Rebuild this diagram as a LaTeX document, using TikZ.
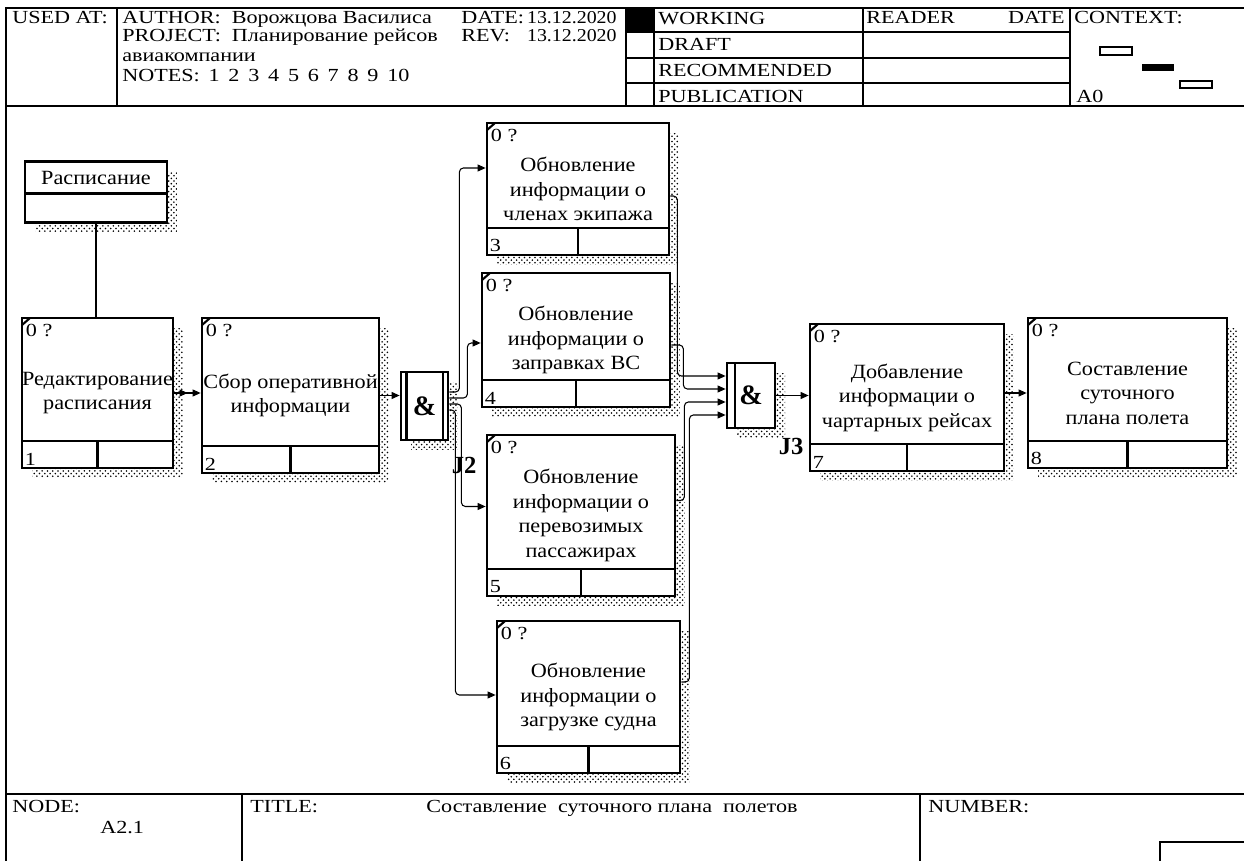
\documentclass[tikz,border=0pt]{standalone}
\usepackage{fontspec}
\setmainfont{Liberation Serif}
\newfontfamily\widefam[FakeStretch=1.2]{Liberation Serif}
\newfontfamily\boxfam[FakeStretch=1.1]{Liberation Serif}
\usetikzlibrary{shapes,shapes.multipart,arrows.meta,calc,shadows,patterns}
\newcommand\boxfont{\boxfam\fontsize{11.5}{13.9}\selectfont}
\newcommand\hdrfont{\widefam\fontsize{10.5}{12}\selectfont}
\newcommand\datefont{\boxfam\fontsize{10.3}{12}\selectfont}
\newcommand\ampfont{\fontsize{16}{18}\selectfont\bfseries}
\newcommand\jfont{\fontsize{14}{16}\selectfont\bfseries}
\newcommand\ngap{\hspace{5pt}}

\begin{document}
\begin{tikzpicture}[x=0.02cm,y=-0.02cm]
	\tikzstyle{shade}=[general shadow={shadow xshift=0.2cm, shadow yshift=-0.2cm, pattern=crosshatch dots, pattern color=black}]
	\tikzstyle{act}=[rectangle, draw, fill=white, line width=1.6pt, shade, align=center, font=\boxfont, inner sep=0pt,
		path picture={
			\draw[line width=1.6pt] ([yshift=0.54cm]path picture bounding box.south west) -- ([yshift=0.54cm]path picture bounding box.south east);
			\draw[line width=1.6pt] (path picture bounding box.south) -- ++(0,-27);
			\draw[line width=1.2pt] ([yshift=-0.14cm]path picture bounding box.north west) -- ([xshift=0.16cm]path picture bounding box.north west);},
		label={[anchor=north west, font=\hdrfont, inner xsep=0.1cm, inner ysep=0.14cm]north west:0 ?}]
	\tikzstyle{numlbl}=[anchor=south west, font=\hdrfont, inner sep=0.08cm]
	\tikzstyle{junc}=[rectangle, draw, fill=white, line width=1.6pt, shade, font=\ampfont, inner sep=0pt]
	\tikzstyle{jboth}=[path picture={
			\draw[line width=1.2pt] ([xshift=0.11cm]path picture bounding box.north west) -- ([xshift=0.11cm]path picture bounding box.south west);
			\draw[line width=1.2pt] ([xshift=-0.1cm]path picture bounding box.north east) -- ([xshift=-0.1cm]path picture bounding box.south east);}]
	\tikzstyle{jleft}=[path picture={
			\draw[line width=1.2pt] ([xshift=0.16cm]path picture bounding box.north west) -- ([xshift=0.16cm]path picture bounding box.south west);}]
	\tikzstyle{jlbl}=[anchor=north west, font=\jfont, inner sep=0pt]
	\tikzstyle{store}=[rectangle split, rectangle split parts=2, rectangle split ignore empty parts=false, rectangle split empty part height=0.2cm, rectangle split empty part depth=0pt, draw, fill=white, line width=1.6pt, shade, font=\boxfont, inner xsep=0pt, inner ysep=0.16cm]
	\tikzstyle{flow}=[-{Triangle[length=0.16cm,width=0.14cm]}, line width=0.6pt, rounded corners=0.08cm]
	\tikzstyle{frame}=[line width=0.9pt]
	\tikzstyle{hdr}=[anchor=base west, font=\hdrfont, inner sep=0pt]

	\useasboundingbox (0,0) rectangle (1244,861);

	\draw[frame] (6,861) -- (6,8) -- (1244,8);
	\draw[frame] (6,106) -- (1244,106);
	\draw[frame] (6,794) -- (1244,794);
	\draw[frame] (117,8) -- (117,106);
	\draw[frame] (626,8) -- (626,106);
	\draw[frame] (654,8) -- (654,106);
	\draw[frame] (863,8) -- (863,106);
	\draw[frame] (1070,8) -- (1070,106);
	\draw[frame] (626,32) -- (1070,32);
	\draw[frame] (626,58) -- (1070,58);
	\draw[frame] (626,83) -- (1070,83);
	\fill (627,9) rectangle (653,32);
	\draw[line width=0.8pt] (1100,47) rectangle (1132,55);
	\fill (1142,64) rectangle (1174,71);
	\draw[line width=0.8pt] (1180,81) rectangle (1212,88);
	\draw[frame] (242,794) -- (242,861);
	\draw[frame] (920,794) -- (920,861);
	\draw[frame] (1160,861) -- (1160,842) -- (1244,842);

	\node[hdr] (usedat) at (12,24) {USED AT:};
	\node[hdr] (author) at (122,24) {AUTHOR:\ \ Ворожцова Василиса};
	\node[hdr] (project) at (122,42) {PROJECT:\ \ Планирование рейсов};
	\node[hdr] (project2) at (122,62) {авиакомпании};
	\node[hdr] (notes) at (122,82) {NOTES:\ngap 1\ngap 2\ngap 3\ngap 4\ngap 5\ngap 6\ngap 7\ngap 8\ngap 9\ngap 10};
	\node[hdr] (date) at (461,24) {DATE:};
	\node[hdr, font=\datefont, anchor=base east] (dateval) at (617,24) {13.12.2020};
	\node[hdr] (rev) at (461,42) {REV:};
	\node[hdr, font=\datefont, anchor=base east] (revval) at (617,42) {13.12.2020};
	\node[hdr] (working) at (658,25) {WORKING};
	\node[hdr] (draft) at (658,51) {DRAFT};
	\node[hdr] (recommended) at (658,77) {RECOMMENDED};
	\node[hdr] (publication) at (658,103) {PUBLICATION};
	\node[hdr] (reader) at (866,24) {READER};
	\node[hdr, anchor=base east] (readerdate) at (1065,24) {DATE};
	\node[hdr] (context) at (1074,24) {CONTEXT:};
	\node[hdr] (ctxnode) at (1076,103) {A0};
	\node[hdr] (nodelbl) at (12,812) {NODE:};
	\node[hdr] (nodeval) at (100,833) {A2.1};
	\node[hdr] (titlelbl) at (250,812) {TITLE:};
	\node[hdr, anchor=base] (titleval) at (612,812) {Составление\ \ суточного плана\ \ полетов};
	\node[hdr] (numberlbl) at (928,812) {NUMBER:};

	\node[store, minimum width=2.84cm, anchor=north] (sched) at (96,160) {Расписание \nodepart{two}};

	\node[act, minimum width=3.02cm, minimum height=3cm, label={[numlbl]south west:1}] (a1) at (97.5,393) {Редактирование\\расписания};
	\node[act, minimum width=3.54cm, minimum height=3.1cm, label={[numlbl]south west:2}] (a2) at (290.5,395.5) {Сбор оперативной\\информации};
	\node[act, minimum width=3.64cm, minimum height=2.64cm, label={[numlbl]south west:3}] (a3) at (578,189) {Обновление\\информации о\\членах экипажа};
	\node[act, minimum width=3.76cm, minimum height=2.68cm, label={[numlbl]south west:4}] (a4) at (576,340) {Обновление\\информации о\\заправках ВС};
	\node[act, minimum width=3.76cm, minimum height=3.22cm, label={[numlbl]south west:5}] (a5) at (581,515.5) {Обновление\\информации о\\перевозимых\\пассажирах};
	\node[act, minimum width=3.66cm, minimum height=3.04cm, label={[numlbl]south west:6}] (a6) at (588.5,697) {Обновление\\информации о\\загрузке судна};
	\node[act, minimum width=3.88cm, minimum height=2.94cm, label={[numlbl]south west:7}] (a7) at (907,397.5) {Добавление\\информации о\\чартарных рейсах};
	\node[act, minimum width=3.98cm, minimum height=3cm, label={[numlbl]south west:8}] (a8) at (1127.5,393) {Составление\\суточного\\плана полета};

	\node[junc, jboth, minimum width=0.94cm, minimum height=1.36cm] (j2) at (424.5,406) {\&};
	\node[junc, jleft, minimum width=0.96cm, minimum height=1.3cm] (j3) at (751,395.5) {\&};
	\node[jlbl] (j2lbl) at ($(j2.south east)+(2,15)$) {J2};
	\node[jlbl] (j3lbl) at ($(j3.south east)+(2,8)$) {J3};

	\draw[line width=0.6pt] (sched.south) -- (sched.south |- a1.north);
	\draw[flow, -{Triangle[length=0.16cm,width=0.14cm,sep=0.1cm]Triangle[length=0.16cm,width=0.14cm]}] (a1.east) -- (a1.east -| a2.west);
	\draw[flow] (a2.east) -- (a2.east -| j2.west);
	\draw[flow] ($(j2.east)+(0,-14)$) -- ++(10,0) |- ($(a3.west)+(0,-21)$);
	\draw[flow] ($(j2.east)+(0,-8)$) -- ++(18,0) |- ($(a4.west)+(0,3)$);
	\draw[flow] ($(j2.east)+(0,-2)$) -- ++(12,0) |- ($(a5.west)+(0,-9)$);
	\draw[flow] ($(j2.east)+(0,4)$) -- ++(6,0) |- ($(a6.west)+(0,-2)$);
	\draw[flow] ($(a3.east)+(0,7)$) -- ++(7,0) |- ($(j3.west)+(0,-19.5)$);
	\draw[flow] ($(a4.east)+(0,5)$) -- ++(12,0) |- ($(j3.west)+(0,-6.5)$);
	\draw[flow] ($(a5.east)+(0,-15)$) -- ++(8,0) |- ($(j3.west)+(0,6.5)$);
	\draw[flow] ($(a6.east)+(0,-15)$) -- ++(8,0) |- ($(j3.west)+(0,19.5)$);
	\draw[flow] (j3.east) -- (j3.east -| a7.west);
	\draw[flow] (a8.west -| a7.east) -- (a8.west);
\end{tikzpicture}
\end{document}
